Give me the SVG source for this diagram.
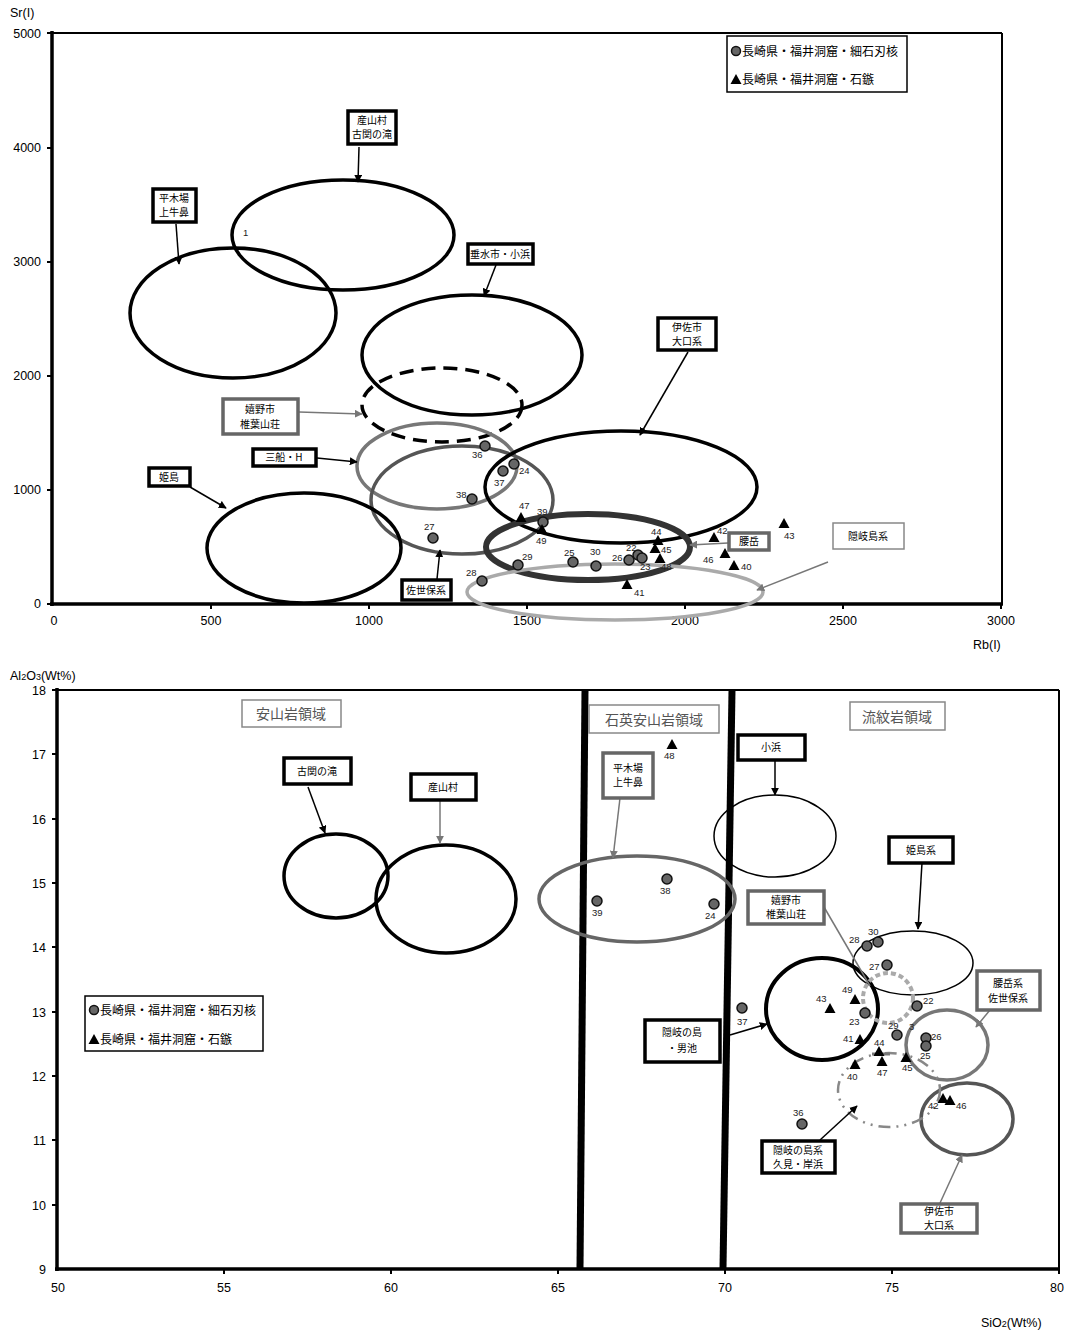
<svg xmlns="http://www.w3.org/2000/svg" width="1070" height="1337" viewBox="0 0 1070 1337">
<style>
.tick{font-family:"Liberation Sans",Arial,sans-serif;font-size:12.5px;fill:#000}
.ax{font-family:"Liberation Sans","Noto Sans CJK JP",sans-serif;font-size:12.5px;fill:#000}
.pl{font-family:"Liberation Sans",Arial,sans-serif;font-size:9.5px;fill:#222}
.jp{font-family:"Noto Sans CJK JP",sans-serif;font-size:10px;fill:#000;text-anchor:middle}
.lg{font-family:"Noto Sans CJK JP",sans-serif;font-size:12px;fill:#000}
.rg{font-family:"Noto Sans CJK JP",sans-serif;font-size:14px;fill:#555;text-anchor:middle}
.pt{fill:#666;stroke:#111;stroke-width:1.5}
.tri{fill:#000}
.bk{fill:#fff;stroke:#000;stroke-width:3.5}
.gb{fill:#fff;stroke:#666;stroke-width:3.5}
.tb{fill:#fff;stroke:#888;stroke-width:1.5}
.e{fill:none;stroke:#000;stroke-width:3.5}
.ar{stroke:#000;stroke-width:1.5;fill:none;marker-end:url(#ab)}
.ag{stroke:#777;stroke-width:1.5;fill:none;marker-end:url(#ag)}
</style>
<defs>
<marker id="ab" viewBox="0 0 10 10" refX="9" refY="5" markerWidth="8" markerHeight="8" orient="auto" markerUnits="userSpaceOnUse"><path d="M0,0 L10,5 L0,10 z" fill="#000"/></marker>
<marker id="ag" viewBox="0 0 10 10" refX="9" refY="5" markerWidth="8" markerHeight="8" orient="auto" markerUnits="userSpaceOnUse"><path d="M0,0 L10,5 L0,10 z" fill="#777"/></marker>
<path id="t" d="M0,-6 L5.5,4 L-5.5,4 z"/>
</defs>
<rect width="1070" height="1337" fill="#fff"/>

<!-- ===== TOP CHART ===== -->
<g id="top-axes">
<line x1="52" y1="33" x2="1002" y2="33" stroke="#000" stroke-width="2"/>
<line x1="1002" y1="33" x2="1002" y2="604" stroke="#000" stroke-width="2"/>
<line x1="52" y1="31" x2="52" y2="606" stroke="#000" stroke-width="3.5"/>
<line x1="50" y1="604" x2="1003" y2="604" stroke="#000" stroke-width="3.5"/>
<g stroke="#000" stroke-width="2">
<line x1="47" y1="33" x2="52" y2="33"/><line x1="47" y1="148" x2="52" y2="148"/><line x1="47" y1="262" x2="52" y2="262"/><line x1="47" y1="376" x2="52" y2="376"/><line x1="47" y1="490" x2="52" y2="490"/><line x1="47" y1="604" x2="52" y2="604"/>
<line x1="211" y1="604" x2="211" y2="609"/><line x1="369" y1="604" x2="369" y2="609"/><line x1="527" y1="604" x2="527" y2="609"/><line x1="685" y1="604" x2="685" y2="609"/><line x1="843" y1="604" x2="843" y2="609"/><line x1="1001" y1="604" x2="1001" y2="609"/>
</g>
<text class="ax" x="10" y="17" font-size="13">Sr(I)</text>
<g class="tick" text-anchor="end">
<text x="41" y="38">5000</text><text x="41" y="152">4000</text><text x="41" y="266">3000</text><text x="41" y="380">2000</text><text x="41" y="494">1000</text><text x="41" y="608">0</text>
</g>
<g class="tick" text-anchor="middle">
<text x="54" y="625">0</text><text x="211" y="625">500</text><text x="369" y="625">1000</text><text x="527" y="625">1500</text><text x="685" y="625">2000</text><text x="843" y="625">2500</text><text x="1001" y="625">3000</text>
</g>
<text class="ax" x="973" y="649">Rb(I)</text>
</g>

<g id="top-ellipses">
<ellipse class="e" cx="343" cy="235" rx="111" ry="55"/>
<ellipse class="e" cx="233" cy="313" rx="103" ry="65"/>
<ellipse class="e" cx="472" cy="355" rx="110" ry="60"/>
<ellipse class="e" cx="442" cy="405" rx="80" ry="37" style="stroke-dasharray:14,8"/>
<ellipse class="e" cx="437" cy="466" rx="80" ry="43" style="stroke:#777"/>
<ellipse class="e" cx="462" cy="500" rx="91" ry="54" style="stroke:#555"/>
<ellipse class="e" cx="621" cy="487" rx="136" ry="56"/>
<ellipse class="e" cx="304" cy="548" rx="97" ry="55"/>
<ellipse class="e" cx="588" cy="547" rx="102" ry="33" style="stroke:#333;stroke-width:6"/>
<ellipse class="e" cx="615" cy="592" rx="148" ry="28" style="stroke:#aaa"/>
</g>

<g id="top-points">
<circle class="pt" cx="485" cy="446" r="5"/><text class="pl" x="472" y="458">36</text>
<circle class="pt" cx="514" cy="464" r="5"/><text class="pl" x="519" y="474">24</text>
<circle class="pt" cx="503" cy="471" r="5"/><text class="pl" x="494" y="486">37</text>
<circle class="pt" cx="472" cy="499" r="5"/><text class="pl" x="456" y="498">38</text>
<circle class="pt" cx="433" cy="538" r="5"/><text class="pl" x="424" y="530">27</text>
<use href="#t" class="tri" x="521" y="518"/><text class="pl" x="519" y="509">47</text>
<circle class="pt" cx="543" cy="522" r="5"/><text class="pl" x="537" y="515">39</text>
<use href="#t" class="tri" x="542" y="530"/><text class="pl" x="536" y="544">49</text>
<circle class="pt" cx="518" cy="565" r="5"/><text class="pl" x="522" y="560">29</text>
<circle class="pt" cx="482" cy="581" r="5"/><text class="pl" x="466" y="576">28</text>
<circle class="pt" cx="573" cy="562" r="5"/><text class="pl" x="564" y="556">25</text>
<circle class="pt" cx="596" cy="566" r="5"/><text class="pl" x="590" y="555">30</text>
<circle class="pt" cx="629" cy="560" r="5"/><text class="pl" x="612" y="561">26</text>
<circle class="pt" cx="638" cy="555" r="5"/><text class="pl" x="626" y="551">22</text>
<circle class="pt" cx="642" cy="558" r="5"/><text class="pl" x="640" y="570">23</text>
<use href="#t" class="tri" x="658" y="541"/><text class="pl" x="651" y="535">44</text>
<use href="#t" class="tri" x="655" y="549"/><text class="pl" x="661" y="553">45</text>
<use href="#t" class="tri" x="660" y="559"/><text class="pl" x="661" y="570">48</text>
<use href="#t" class="tri" x="627" y="585"/><text class="pl" x="634" y="596">41</text>
<use href="#t" class="tri" x="714" y="538"/><text class="pl" x="717" y="534">42</text>
<use href="#t" class="tri" x="725" y="554"/><text class="pl" x="703" y="563">46</text>
<use href="#t" class="tri" x="734" y="566"/><text class="pl" x="741" y="570">40</text>
<use href="#t" class="tri" x="784" y="524"/><text class="pl" x="784" y="539">43</text>
<text class="pl" x="243" y="236" font-size="8">1</text>
</g>

<g id="top-connectors">
<line class="ar" x1="359" y1="147" x2="358" y2="182"/>
<line class="ar" x1="176" y1="224" x2="179" y2="264"/>
<line class="ar" x1="496" y1="265" x2="484" y2="296"/>
<line class="ag" x1="299" y1="412" x2="362" y2="414"/>
<line class="ar" x1="317" y1="458" x2="357" y2="462"/>
<line class="ar" x1="190" y1="487" x2="226" y2="508"/>
<line class="ar" x1="688" y1="352" x2="640" y2="435"/>
<line class="ar" x1="437" y1="579" x2="440" y2="550"/>
<line class="ag" x1="728" y1="543" x2="690" y2="545"/>
<line class="ag" x1="828" y1="562" x2="757" y2="590"/>
</g>

<g id="top-labels">
<g id="n-ubuyama-kozeki"><rect class="bk" x="348" y="111" width="48" height="33"/><text class="jp" x="372" y="124">産山村</text><text class="jp" x="372" y="138">古関の滝</text></g>
<g id="n-hirakiba"><rect class="bk" x="153" y="189" width="43" height="33"/><text class="jp" x="174" y="202">平木場</text><text class="jp" x="174" y="216">上牛鼻</text></g>
<g id="n-tarumizu"><rect class="bk" x="468" y="244" width="65" height="20"/><text class="jp" x="500" y="258">垂水市・小浜</text></g>
<g id="n-ureshino"><rect class="gb" x="223" y="399" width="75" height="35"/><text class="jp" x="260" y="413">嬉野市</text><text class="jp" x="260" y="428">椎葉山荘</text></g>
<g id="n-mifune"><rect class="bk" x="253" y="449" width="63" height="17"/><text class="jp" x="284" y="461">三船・H</text></g>
<g id="n-himeshima"><rect class="bk" x="149" y="468" width="41" height="18"/><text class="jp" x="169" y="481">姫島</text></g>
<g id="n-isa"><rect class="bk" x="658" y="318" width="58" height="32"/><text class="jp" x="687" y="331">伊佐市</text><text class="jp" x="687" y="345">大口系</text></g>
<g id="n-sasebo"><rect class="bk" x="402" y="580" width="49" height="20"/><text class="jp" x="426" y="594">佐世保系</text></g>
<g id="n-koshidake"><rect class="gb" x="729" y="533" width="40" height="17"/><text class="jp" x="749" y="545">腰岳</text></g>
<g id="n-oki"><rect class="tb" x="833" y="523" width="71" height="26"/><text class="jp" x="868" y="540">隠岐島系</text></g>
<g id="legend-top"><rect x="727" y="36" width="180" height="56" fill="#fff" stroke="#000" stroke-width="1.5"/>
<circle class="pt" cx="736" cy="51" r="4.5"/><text class="lg" x="742" y="56">長崎県・福井洞窟・細石刃核</text>
<use href="#t" class="tri" x="736" y="80"/><text class="lg" x="742" y="84">長崎県・福井洞窟・石鏃</text></g>
</g>

<!-- ===== BOTTOM CHART ===== -->
<g id="bottom-axes">
<line x1="57" y1="690" x2="1059" y2="690" stroke="#000" stroke-width="2"/>
<line x1="1059" y1="690" x2="1059" y2="1269" stroke="#000" stroke-width="2"/>
<line x1="57" y1="688" x2="57" y2="1271" stroke="#000" stroke-width="3.5"/>
<line x1="55" y1="1269" x2="1060" y2="1269" stroke="#000" stroke-width="3.5"/>
<g stroke="#000" stroke-width="2">
<line x1="52" y1="690" x2="57" y2="690"/><line x1="52" y1="754" x2="57" y2="754"/><line x1="52" y1="819" x2="57" y2="819"/><line x1="52" y1="883" x2="57" y2="883"/><line x1="52" y1="947" x2="57" y2="947"/><line x1="52" y1="1012" x2="57" y2="1012"/><line x1="52" y1="1076" x2="57" y2="1076"/><line x1="52" y1="1140" x2="57" y2="1140"/><line x1="52" y1="1205" x2="57" y2="1205"/>
<line x1="224" y1="1269" x2="224" y2="1274"/><line x1="391" y1="1269" x2="391" y2="1274"/><line x1="558" y1="1269" x2="558" y2="1274"/><line x1="725" y1="1269" x2="725" y2="1274"/><line x1="892" y1="1269" x2="892" y2="1274"/><line x1="1059" y1="1269" x2="1059" y2="1274"/>
</g>
<text class="ax" x="10" y="680">Al<tspan font-size="9">2</tspan>O<tspan font-size="9">3</tspan>(Wt%)</text>
<g class="tick" text-anchor="end">
<text x="46" y="695">18</text><text x="46" y="759">17</text><text x="46" y="824">16</text><text x="46" y="888">15</text><text x="46" y="952">14</text><text x="46" y="1017">13</text><text x="46" y="1081">12</text><text x="46" y="1145">11</text><text x="46" y="1210">10</text><text x="46" y="1274">9</text>
</g>
<g class="tick" text-anchor="middle">
<text x="58" y="1292">50</text><text x="224" y="1292">55</text><text x="391" y="1292">60</text><text x="558" y="1292">65</text><text x="725" y="1292">70</text><text x="892" y="1292">75</text><text x="1057" y="1292">80</text>
</g>
<text class="ax" x="981" y="1327">SiO<tspan font-size="9">2</tspan>(Wt%)</text>
<line x1="585" y1="690" x2="580" y2="1268" stroke="#000" stroke-width="7"/>
<line x1="732" y1="690" x2="723" y2="1268" stroke="#000" stroke-width="7"/>
</g>

<g id="regions">
<g id="r-andesite"><rect class="tb" x="242" y="700" width="99" height="27"/><text class="rg" x="291" y="719">安山岩領域</text></g>
<g id="r-dacite"><rect class="tb" x="589" y="705" width="130" height="28"/><text class="rg" x="654" y="725">石英安山岩領域</text></g>
<g id="r-rhyolite"><rect class="tb" x="850" y="702" width="95" height="28"/><text class="rg" x="897" y="722">流紋岩領域</text></g>
</g>

<g id="bottom-ellipses">
<ellipse class="e" cx="336" cy="876" rx="52" ry="42"/>
<ellipse class="e" cx="446" cy="899" rx="70" ry="54"/>
<ellipse class="e" cx="637" cy="899" rx="98" ry="43" style="stroke:#666"/>
<ellipse cx="775" cy="836" rx="61" ry="41" fill="none" stroke="#000" stroke-width="1.5"/>
<ellipse cx="913" cy="963" rx="60" ry="32" fill="none" stroke="#000" stroke-width="1.5"/>
<ellipse class="e" cx="822" cy="1009" rx="56" ry="51" style="stroke-width:4"/>
<circle cx="888" cy="998" r="25" fill="none" stroke="#aaa" stroke-width="4" stroke-dasharray="5,3"/>
<ellipse class="e" cx="947" cy="1045" rx="41" ry="35" style="stroke:#777"/>
<ellipse class="e" cx="967" cy="1119" rx="46" ry="36" style="stroke:#555"/>
<ellipse cx="889" cy="1090" rx="51" ry="37" fill="none" stroke="#888" stroke-width="2.5" stroke-dasharray="12,6,2,6,2,6"/>
</g>

<g id="bottom-points">
<use href="#t" class="tri" x="672" y="745"/><text class="pl" x="664" y="759">48</text>
<circle class="pt" cx="597" cy="901" r="5"/><text class="pl" x="592" y="916">39</text>
<circle class="pt" cx="667" cy="879" r="5"/><text class="pl" x="660" y="894">38</text>
<circle class="pt" cx="714" cy="904" r="5"/><text class="pl" x="705" y="919">24</text>
<circle class="pt" cx="742" cy="1008" r="5"/><text class="pl" x="737" y="1025">37</text>
<circle class="pt" cx="802" cy="1124" r="5"/><text class="pl" x="793" y="1116">36</text>
<circle class="pt" cx="867" cy="946" r="5"/><text class="pl" x="849" y="943">28</text>
<circle class="pt" cx="878" cy="942" r="5"/><text class="pl" x="868" y="935">30</text>
<circle class="pt" cx="887" cy="965" r="5"/><text class="pl" x="869" y="970">27</text>
<circle class="pt" cx="917" cy="1006" r="5"/><text class="pl" x="923" y="1004">22</text>
<use href="#t" class="tri" x="855" y="1000"/><text class="pl" x="842" y="993">49</text>
<use href="#t" class="tri" x="830" y="1009"/><text class="pl" x="816" y="1002">43</text>
<circle class="pt" cx="865" cy="1013" r="5"/><text class="pl" x="849" y="1025">23</text>
<circle class="pt" cx="897" cy="1035" r="5"/><text class="pl" x="888" y="1029">29</text>
<text class="pl" x="909" y="1030">3</text>
<circle class="pt" cx="926" cy="1038" r="5"/><text class="pl" x="931" y="1040">26</text>
<circle class="pt" cx="926" cy="1046" r="5"/><text class="pl" x="920" y="1059">25</text>
<use href="#t" class="tri" x="860" y="1040"/><text class="pl" x="843" y="1042">41</text>
<line x1="872" y1="1054" x2="890" y2="1054" stroke="#777" stroke-width="3"/>
<use href="#t" class="tri" x="879" y="1052"/><text class="pl" x="874" y="1046">44</text>
<use href="#t" class="tri" x="882" y="1062"/><text class="pl" x="877" y="1076">47</text>
<use href="#t" class="tri" x="906" y="1058"/><text class="pl" x="902" y="1071">45</text>
<use href="#t" class="tri" x="855" y="1065"/><text class="pl" x="847" y="1080">40</text>
<use href="#t" class="tri" x="943" y="1099"/><text class="pl" x="928" y="1109">42</text>
<use href="#t" class="tri" x="950" y="1101"/><text class="pl" x="956" y="1109">46</text>
</g>

<g id="bottom-connectors">
<line class="ar" x1="308" y1="787" x2="325" y2="833"/>
<line class="ag" x1="440" y1="800" x2="440" y2="843"/>
<line class="ag" x1="620" y1="798" x2="613" y2="858"/>
<line class="ar" x1="775" y1="760" x2="775" y2="795"/>
<line class="ar" x1="922" y1="863" x2="918" y2="929"/>
<line x1="824" y1="907" x2="870" y2="986" stroke="#777" stroke-width="1.5"/>
<line class="ag" x1="990" y1="1010" x2="976" y2="1027"/>
<line class="ar" x1="730" y1="1035" x2="767" y2="1024"/>
<line class="ar" x1="820" y1="1140" x2="857" y2="1106"/>
<line class="ag" x1="940" y1="1203" x2="962" y2="1155"/>
</g>

<g id="bottom-labels">
<g id="b-kozeki"><rect class="bk" x="284" y="758" width="67" height="26"/><text class="jp" x="317" y="775">古関の滝</text></g>
<g id="b-ubuyama"><rect class="bk" x="411" y="774" width="65" height="26"/><text class="jp" x="443" y="791">産山村</text></g>
<g id="b-hirakiba"><rect class="gb" x="603" y="753" width="50" height="45"/><text class="jp" x="628" y="772">平木場</text><text class="jp" x="628" y="786">上牛鼻</text></g>
<g id="b-obama"><rect class="bk" x="738" y="735" width="67" height="25"/><text class="jp" x="771" y="751">小浜</text></g>
<g id="b-himeshima"><rect class="bk" x="889" y="837" width="64" height="26"/><text class="jp" x="921" y="854">姫島系</text></g>
<g id="b-ureshino"><rect class="gb" x="748" y="891" width="76" height="33"/><text class="jp" x="786" y="904">嬉野市</text><text class="jp" x="786" y="918">椎葉山荘</text></g>
<g id="b-koshidake"><rect class="gb" x="977" y="971" width="63" height="39"/><text class="jp" x="1008" y="987">腰岳系</text><text class="jp" x="1008" y="1002">佐世保系</text></g>
<g id="b-oki-oike"><rect class="bk" x="645" y="1020" width="75" height="42"/><text class="jp" x="682" y="1036">隠岐の島</text><text class="jp" x="682" y="1052">・男池</text></g>
<g id="b-oki-kumi"><rect class="bk" x="762" y="1141" width="73" height="32"/><text class="jp" x="798" y="1154">隠岐の島系</text><text class="jp" x="798" y="1168">久見・岸浜</text></g>
<g id="b-isa"><rect class="gb" x="901" y="1204" width="76" height="29"/><text class="jp" x="939" y="1215">伊佐市</text><text class="jp" x="939" y="1229">大口系</text></g>
<g id="legend-bottom"><rect x="85" y="996" width="178" height="55" fill="#fff" stroke="#000" stroke-width="1.5"/>
<circle class="pt" cx="94" cy="1010" r="4.5"/><text class="lg" x="100" y="1015">長崎県・福井洞窟・細石刃核</text>
<use href="#t" class="tri" x="94" y="1040"/><text class="lg" x="100" y="1044">長崎県・福井洞窟・石鏃</text></g>
</g>
</svg>
